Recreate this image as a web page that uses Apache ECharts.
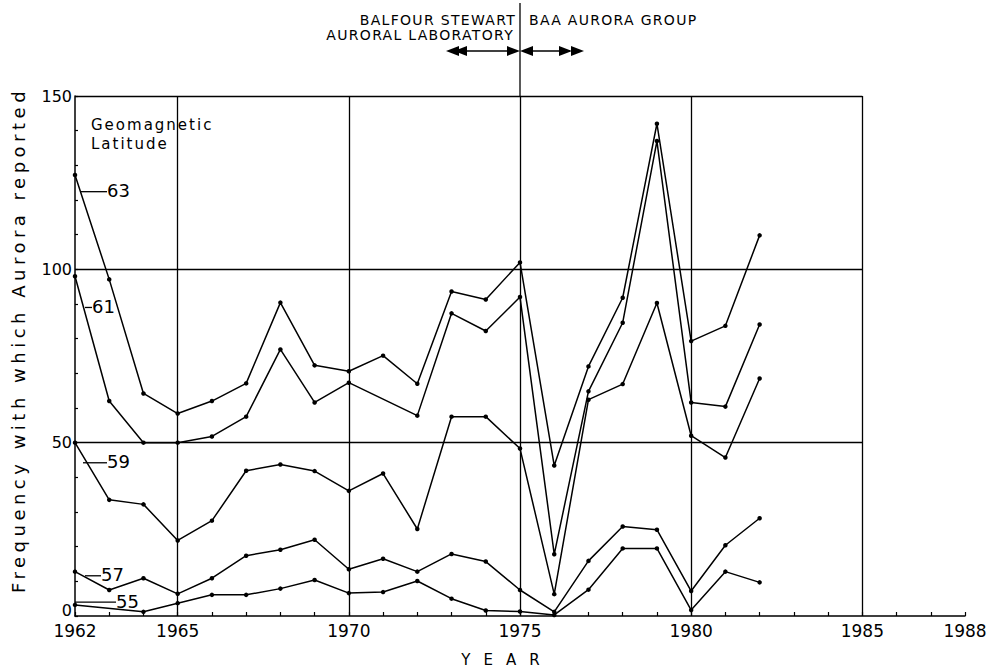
<!DOCTYPE html>
<html><head><meta charset="utf-8">
<script src="https://cdn.jsdelivr.net/npm/echarts@6/dist/echarts.min.js"></script>
<style>html,body{margin:0;padding:0;background:#fff}#c{width:1001px;height:672px}</style>
</head><body><div id="c"></div>
<script>
// ---- data ----
var years = [1962,1963,1964,1965,1966,1967,1968,1969,1970,1971,1972,1973,1974,1975,1976,1977,1978,1979,1980,1981,1982];
var lat63 = [127.2,97.1,64.2,58.4,62,67.1,90.4,72.3,70.6,75.1,67,93.6,91.3,102,43.4,72,91.8,142,79.3,83.7,109.8];
var lat61 = [98,62,50,50,51.8,57.5,76.9,61.6,67.3,null,57.8,87.3,82.2,92,17.8,64.8,84.6,137,61.6,60.4,84.1];
var lat59 = [50,33.5,32.2,21.8,27.5,41.9,43.7,41.8,36.1,41.1,25.1,57.5,57.5,48.3,6.3,62.4,66.9,90.3,52,45.7,68.5];
var lat57 = [12.8,7.5,10.9,6.4,10.9,17.4,19.1,22,13.5,16.5,12.8,17.9,15.7,7.5,1.2,15.9,25.8,24.9,7.2,20.4,28.2];
var lat55 = [3.2,null,1.2,3.7,6.1,6.1,7.9,10.4,6.6,6.9,10.1,5.0,1.6,1.3,0.3,7.6,19.5,19.5,1.7,12.8,9.7];
var seriesNames = ['63','61','59','57','55'];
var xTickLabels = [1962,1965,1970,1975,1980,1985,1988];
var yTickLabels = [0,50,100,150];
var gridYears = [1965,1970,1975,1980,1985];
var gridValues = [50,100,150];
var boundaryYear = 1975;

var allSeries = [lat63, lat61, lat59, lat57, lat55];
var FONT = 'DejaVu Sans';

function pairs(vals){
  var out = [];
  for (var i=0;i<years.length;i++){ if (vals[i]!=null) out.push([years[i], vals[i]]); }
  return out;
}

var gridLineData = [];
gridYears.forEach(function(y){ gridLineData.push([{coord:[y,0]},{coord:[y,150]}]); });
gridValues.forEach(function(v){ gridLineData.push([{coord:[1962,v]},{coord:[1985,v]}]); });

var series = allSeries.map(function(vals, i){
  return {
    name: seriesNames[i], type:'line', data: pairs(vals),
    symbol:'circle', symbolSize:4.5, showSymbol:true,
    lineStyle:{color:'#000', width:1.5}, itemStyle:{color:'#000'},
    animation:false, silent:true, z:3
  };
});
series.push({
  type:'line', data:[], silent:true, animation:false,
  markLine:{silent:true, symbol:['none','none'], label:{show:false},
    lineStyle:{color:'#000', width:1.3, type:'solid'}, data:gridLineData, animation:false}
});

var chart = echarts.init(document.getElementById('c'), null, {renderer:'svg'});
chart.setOption({
  backgroundColor:'#fff',
  animation:false,
  grid:{left:75, right:36, top:96, bottom:56, containLabel:false},
  xAxis:{type:'value', min:1962, max:1988, interval:1,
    axisLine:{lineStyle:{color:'#000', width:1.5}},
    axisTick:{inside:true, length:4, lineStyle:{color:'#000', width:1.2}},
    axisLabel:{color:'#000', fontSize:17, fontFamily:FONT, margin:6,
      formatter:function(v){ return xTickLabels.indexOf(v)>=0 ? String(v) : ''; }},
    splitLine:{show:false}},
  yAxis:{type:'value', min:0, max:150, interval:10,
    axisLine:{show:true, lineStyle:{color:'#000', width:1.5}},
    axisTick:{show:true, inside:true, length:3, lineStyle:{color:'#000', width:1.2}},
    axisLabel:{color:'#000', fontSize:16, fontFamily:FONT, margin:3,
      formatter:function(v){
        if (yTickLabels.indexOf(v)<0) return '';
        return v===0 ? '{z|'+v+'}' : String(v);
      },
      rich:{z:{fontSize:16, fontFamily:FONT, color:'#000', lineHeight:14, padding:[0,0,12,0]}}},
    splitLine:{show:false}},
  series: series
});

function px(x,y){ return chart.convertToPixel({gridIndex:0},[x,y]); }
var x0 = px(1962,0)[0];
var xb = px(boundaryYear,0)[0];
var yTop = px(1962,150)[1];
var yBot = px(1962,0)[1];

// label layout (pixel offsets from the 1962 axis)
var labelLayout = [
  {v:122.4, l0:5,  l1:32},
  {v:89.0,  l0:10, l1:17},
  {v:44.2,  l0:8,  l1:32},
  {v:11.6,  l0:10, l1:26},
  {v:4.0,   l0:0,  l1:41}
];
var g = [];
labelLayout.forEach(function(L, i){
  var yy = px(1962, L.v)[1];
  g.push({type:'line', shape:{x1:x0+L.l0, y1:yy, x2:x0+L.l1, y2:yy}, style:{stroke:'#000', lineWidth:1.3}, silent:true});
  g.push({type:'text', x:x0+L.l1, y:yy-1, style:{text:seriesNames[i], font:'18px "'+FONT+'"', fill:'#000', align:'left', verticalAlign:'middle'}, silent:true});
});
g.push({type:'text', x:x0+16, y:yTop+29, style:{text:'Geomagnetic', font:'15px "'+FONT+'"', fill:'#000', align:'left', verticalAlign:'middle'}});
g.push({type:'text', x:x0+16, y:yTop+48, style:{text:'Latitude', font:'15px "'+FONT+'"', fill:'#000', align:'left', verticalAlign:'middle'}});
// axis titles
g.push({type:'text', x:507, y:660, style:{text:'YEAR', font:'15px "'+FONT+'"', fill:'#000', align:'center', verticalAlign:'middle'}});
g.push({type:'text', x:18, y:340, rotation:Math.PI/2, style:{text:'Frequency with which Aurora reported', font:'18px "'+FONT+'"', fill:'#000', align:'center', verticalAlign:'middle'}});
// boundary annotation
g.push({type:'line', shape:{x1:xb, y1:3, x2:xb, y2:yTop}, style:{stroke:'#000', lineWidth:1.3}});
g.push({type:'text', x:xb-4, y:20, style:{text:'BALFOUR STEWART', font:'14px "'+FONT+'"', fill:'#000', align:'right', verticalAlign:'middle'}});
g.push({type:'text', x:xb-6, y:35, style:{text:'AURORAL LABORATORY', font:'14px "'+FONT+'"', fill:'#000', align:'right', verticalAlign:'middle'}});
g.push({type:'text', x:xb+9, y:20, style:{text:'BAA AURORA GROUP', font:'14px "'+FONT+'"', fill:'#000', align:'left', verticalAlign:'middle'}});
var ay = 51, aw = 13, ah = 5;
function tri(tip, dir){ return {type:'polygon', shape:{points:[[tip,ay],[tip-dir*aw,ay-ah],[tip-dir*aw,ay+ah]]}, style:{fill:'#000'}}; }
g.push(tri(xb-74,-1)); g.push(tri(xb-66,-1));
g.push({type:'line', shape:{x1:xb-60, y1:ay, x2:xb-4, y2:ay}, style:{stroke:'#000', lineWidth:1.4}});
g.push(tri(xb,1)); g.push(tri(xb,-1));
g.push({type:'line', shape:{x1:xb+6, y1:ay, x2:xb+50, y2:ay}, style:{stroke:'#000', lineWidth:1.4}});
g.push(tri(xb+52,1)); g.push(tri(xb+64,1));
chart.setOption({graphic:g});

var spacing = {'YEAR':'13px','Frequency with which Aurora reported':'4.5px','Geomagnetic':'2px','Latitude':'2px',
  'BALFOUR STEWART':'1.3px','AURORAL LABORATORY':'1.3px','BAA AURORA GROUP':'1.3px'};
function applySpacing(){
  document.querySelectorAll('#c text').forEach(function(t){
    var s = spacing[t.textContent];
    if (s) t.setAttribute('letter-spacing', s);
  });
}
applySpacing();
chart.on('finished', applySpacing);
</script>
</body></html>
